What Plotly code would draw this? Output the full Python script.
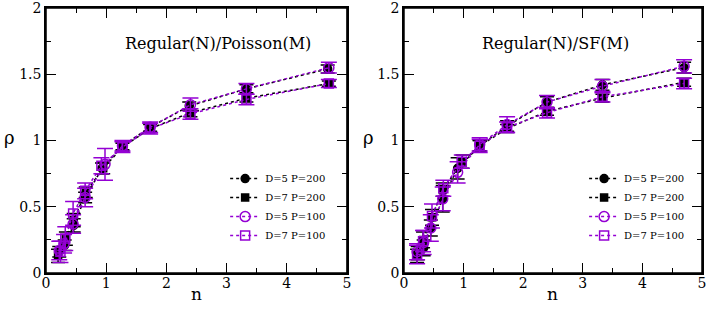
import plotly.graph_objects as go

PURPLE = "#9400D3"
BLACK = "#000000"

# ---- Left panel: Regular(N)/Poisson(M) ----
L_x_d5p200 = [0.22, 0.31, 0.46, 0.65, 0.93, 1.27, 1.73, 2.38, 3.33, 4.68]
L_y_d5p200 = [0.16, 0.21, 0.36, 0.57, 0.79, 0.96, 1.10, 1.26, 1.39, 1.54]
L_e_d5p200 = [0.04, 0.04, 0.05, 0.04, 0.04, 0.03, 0.03, 0.03, 0.03, 0.03]

L_x_d7p200 = [0.20, 0.33, 0.46, 0.66, 0.95, 1.27, 1.73, 2.40, 3.33, 4.70]
L_y_d7p200 = [0.13, 0.26, 0.40, 0.61, 0.79, 0.95, 1.09, 1.21, 1.32, 1.43]
L_e_d7p200 = [0.05, 0.05, 0.05, 0.04, 0.04, 0.03, 0.03, 0.03, 0.03, 0.02]

L_x_d5p100 = [0.22, 0.30, 0.45, 0.65, 0.98, 1.27, 1.73, 2.40, 3.33, 4.70]
L_y_d5p100 = [0.17, 0.22, 0.37, 0.57, 0.82, 0.96, 1.10, 1.27, 1.39, 1.55]
L_e_d5p100 = [0.07, 0.07, 0.07, 0.07, 0.12, 0.04, 0.04, 0.05, 0.04, 0.04]

L_x_d7p100 = [0.24, 0.32, 0.45, 0.65, 0.92, 1.27, 1.73, 2.40, 3.33, 4.70]
L_y_d7p100 = [0.16, 0.26, 0.45, 0.62, 0.81, 0.95, 1.09, 1.20, 1.31, 1.43]
L_e_d7p100 = [0.08, 0.09, 0.09, 0.06, 0.06, 0.04, 0.04, 0.04, 0.04, 0.03]

# ---- Right panel: Regular(N)/SF(M) ----
R_x_d5p200 = [0.23, 0.33, 0.45, 0.65, 0.90, 1.27, 1.73, 2.40, 3.33, 4.70]
R_y_d5p200 = [0.15, 0.19, 0.34, 0.56, 0.79, 0.96, 1.11, 1.29, 1.42, 1.55]
R_e_d5p200 = [0.05, 0.06, 0.06, 0.10, 0.08, 0.04, 0.04, 0.04, 0.04, 0.04]

R_x_d7p200 = [0.22, 0.32, 0.47, 0.65, 0.98, 1.27, 1.73, 2.40, 3.33, 4.70]
R_y_d7p200 = [0.13, 0.25, 0.42, 0.63, 0.84, 0.96, 1.09, 1.22, 1.32, 1.44]
R_e_d7p200 = [0.05, 0.06, 0.06, 0.05, 0.05, 0.04, 0.03, 0.03, 0.03, 0.03]

R_x_d5p100 = [0.22, 0.33, 0.45, 0.65, 0.90, 1.27, 1.73, 2.40, 3.33, 4.70]
R_y_d5p100 = [0.16, 0.23, 0.34, 0.56, 0.76, 0.97, 1.12, 1.29, 1.41, 1.56]
R_e_d5p100 = [0.06, 0.09, 0.10, 0.09, 0.08, 0.05, 0.06, 0.05, 0.05, 0.05]

R_x_d7p100 = [0.22, 0.32, 0.47, 0.66, 0.97, 1.27, 1.73, 2.40, 3.33, 4.70]
R_y_d7p100 = [0.14, 0.24, 0.43, 0.64, 0.84, 0.96, 1.10, 1.21, 1.33, 1.43]
R_e_d7p100 = [0.07, 0.08, 0.09, 0.06, 0.05, 0.05, 0.04, 0.04, 0.04, 0.04]

legend_names = ["D=5 P=200", "D=7 P=200", "D=5 P=100", "D=7 P=100"]
panel_titles = ["Regular(N)/Poisson(M)", "Regular(N)/SF(M)"]
x_title = "n"
y_title = "ρ"

x_ticks = [0, 1, 2, 3, 4, 5]
y_ticks = [0, 0.5, 1, 1.5, 2]
y_tick_text = ["0", "0.5", "1", "1.5", "2"]

SERIF = "DejaVu Serif"

styles = [
    dict(color=BLACK, symbol="circle", size=8, ewidth=7),
    dict(color=BLACK, symbol="square", size=7, ewidth=7),
    dict(color=PURPLE, symbol="circle-open", size=10, ewidth=8),
    dict(color=PURPLE, symbol="square-open", size=9, ewidth=8),
]

fig = go.Figure()

panels = [
    ("x", "y", "legend",
     [(L_x_d5p200, L_y_d5p200, L_e_d5p200), (L_x_d7p200, L_y_d7p200, L_e_d7p200),
      (L_x_d5p100, L_y_d5p100, L_e_d5p100), (L_x_d7p100, L_y_d7p100, L_e_d7p100)]),
    ("x2", "y2", "legend2",
     [(R_x_d5p200, R_y_d5p200, R_e_d5p200), (R_x_d7p200, R_y_d7p200, R_e_d7p200),
      (R_x_d5p100, R_y_d5p100, R_e_d5p100), (R_x_d7p100, R_y_d7p100, R_e_d7p100)]),
]

for xa, ya, lg, series in panels:
    for (xs, ys, es), st, nm in zip(series, styles, legend_names):
        fig.add_trace(go.Scatter(
            x=xs, y=ys, xaxis=xa, yaxis=ya, legend=lg, name=nm,
            mode="lines+markers", cliponaxis=False,
            line=dict(color=st["color"], dash="dot", width=1.5),
            marker=dict(symbol=st["symbol"], size=st["size"], color=st["color"],
                        line=dict(color=st["color"], width=1.5)),
            error_y=dict(type="data", array=es, visible=True, color=st["color"],
                         thickness=1.5, width=st["ewidth"]),
        ))

def xaxis_style(domain):
    return dict(domain=domain, range=[0, 5], tickvals=x_ticks, ticks="inside", ticklen=10,
                tickwidth=1.2, tickcolor="black", showline=True, linecolor="black",
                linewidth=1.5, mirror="ticks", showgrid=False, zeroline=False,
                automargin=False, ticklabeloverflow="allow",
                tickfont=dict(family=SERIF, size=14, color="black"),
                minor=dict(tickvals=[0.5, 1.5, 2.5, 3.5, 4.5], ticks="inside", ticklen=5,
                           tickwidth=1.2, tickcolor="black", showgrid=False))

def yaxis_style(anchor):
    return dict(domain=[0.1165, 0.974], range=[0, 2], tickvals=y_ticks, ticktext=y_tick_text,
                ticks="inside", ticklen=10, tickwidth=1.2, tickcolor="black", showline=True,
                linecolor="black", linewidth=1.5, mirror="ticks", showgrid=False,
                zeroline=False, anchor=anchor, automargin=False, ticklabeloverflow="allow",
                tickfont=dict(family=SERIF, size=14, color="black"),
                minor=dict(tickvals=[0.25, 0.75, 1.25, 1.75], ticks="inside", ticklen=5,
                           tickwidth=1.2, tickcolor="black", showgrid=False))

leg_common = dict(font=dict(family=SERIF, size=10, color="black"), bgcolor="rgba(0,0,0,0)",
                  itemwidth=30, tracegroupgap=0, xanchor="left", yanchor="top",
                  traceorder="normal", itemclick=False)

frame = []
for xr, yr in [("x domain", "y domain"), ("x2 domain", "y2 domain")]:
    frame.append(dict(type="rect", xref=xr, yref=yr, x0=0, x1=1, y0=0, y1=1,
                      line=dict(color="black", width=1.5), fillcolor="rgba(0,0,0,0)",
                      layer="above"))

annotations = []
for (xr, yr), title, tx in zip([("x domain", "y domain"), ("x2 domain", "y2 domain")],
                               panel_titles, [0.57, 0.51]):
    annotations.append(dict(text=title, xref=xr, yref=yr, x=tx, y=0.868,
                            xanchor="center", yanchor="middle", showarrow=False,
                            font=dict(family=SERIF, size=16, color="black")))
    annotations.append(dict(text=x_title, xref=xr, yref=yr, x=0.5, y=-0.078,
                            xanchor="center", yanchor="middle", showarrow=False,
                            font=dict(family=SERIF, size=17, color="black")))
    annotations.append(dict(text=y_title, xref=xr, yref=yr, x=-0.12, y=0.51,
                            xanchor="center", yanchor="middle", showarrow=False,
                            font=dict(family=SERIF, size=18, color="black")))

fig.update_layout(
    width=708, height=309, margin=dict(l=0, r=0, t=0, b=0, autoexpand=False),
    paper_bgcolor="white", plot_bgcolor="white", showlegend=True,
    xaxis=dict(**xaxis_style([0.065, 0.490]), anchor="y"),
    yaxis=yaxis_style("x"),
    xaxis2=dict(**xaxis_style([0.5706, 0.9915]), anchor="y2"),
    yaxis2=yaxis_style("x2"),
    legend=dict(x=0.318, y=0.469, **leg_common),
    legend2=dict(x=0.825, y=0.469, **leg_common),
    shapes=frame,
    annotations=annotations,
)

try:
    fig.update_xaxes(ticklabelstandoff=-4)
except Exception:
    pass

fig.write_html("out.html", config={"displayModeBar": False},
               post_script="document.body.style.margin='0';")
